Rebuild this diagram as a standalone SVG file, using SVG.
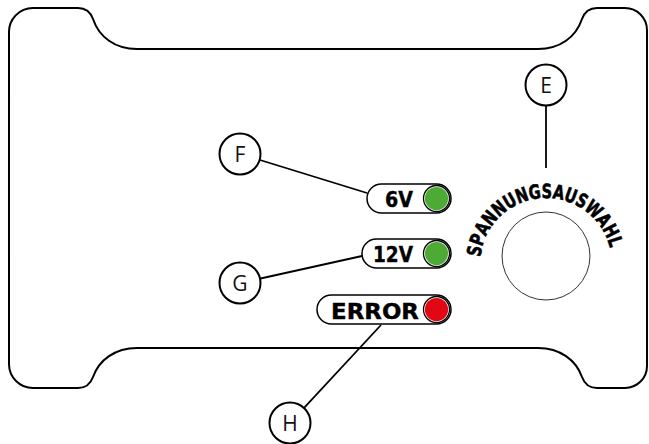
<svg xmlns="http://www.w3.org/2000/svg" width="649" height="444" viewBox="0 0 649 444">
<style>
.outline{fill:none;stroke:#000;stroke-width:2;stroke-linejoin:round}
.conn{stroke:#000;stroke-width:1.8;fill:none}
.callout{fill:#fff;stroke:#000;stroke-width:2}
.clabel{font-family:"Open Sans","DejaVu Sans",sans-serif;font-size:21px;fill:#111;text-anchor:middle}
.pill{fill:#fff;stroke:#000;stroke-width:1.5}
.led{fill:#fff;stroke:#000;stroke-width:1.3}
.ptext{font-family:"DejaVu Sans",sans-serif;font-weight:bold;font-size:21.5px;fill:#000;stroke:#000;stroke-width:0.4}
.arc{font-family:"DejaVu Sans",sans-serif;font-weight:bold;font-size:19.5px;fill:#000;stroke:#000;stroke-width:0.6;text-anchor:middle}
</style>
<g id="housing">
<path class="outline" d="M9,33 A24,24 0 0 1 33,8 L78,8 Q89,8 93,19 C99,37 115,49 137,49 L538,49 C560,49 576,37 582,19 Q586,8 597,8 L625,8 A22,22 0 0 1 647,30 L647,366 A22,22 0 0 1 625,388 L597,388 Q586,388 582,377 C576,360 560,348 538,348 L137,348 C115,348 99,360 93,377 Q89,388 78,388 L33,388 A24,24 0 0 1 9,364 Z"/>
</g>
<g id="connectors">
<line class="conn" x1="546" y1="106" x2="546" y2="168"/>
<line class="conn" x1="260" y1="160" x2="367" y2="193"/>
<line class="conn" x1="260.5" y1="278.5" x2="362" y2="256"/>
<line class="conn" x1="304.3" y1="407.6" x2="381" y2="325"/>
</g>
<g id="knob">
<circle cx="546" cy="256" r="44" fill="#fff" stroke="#333" stroke-width="1"/>
<g class="arc">
<text transform="rotate(-79.5 546 264) translate(546 198) scale(0.75 1)">S</text>
<text transform="rotate(-70.4 546 264) translate(546 198) scale(0.75 1)">P</text>
<text transform="rotate(-60.9 546 264) translate(546 198) scale(0.75 1)">A</text>
<text transform="rotate(-50.8 546 264) translate(546 198) scale(0.75 1)">N</text>
<text transform="rotate(-40.3 546 264) translate(546 198) scale(0.75 1)">N</text>
<text transform="rotate(-29.9 546 264) translate(546 198) scale(0.75 1)">U</text>
<text transform="rotate(-19.5 546 264) translate(546 198) scale(0.75 1)">N</text>
<text transform="rotate(-9.1 546 264) translate(546 198) scale(0.75 1)">G</text>
<text transform="rotate(0.6 546 264) translate(546 198) scale(0.75 1)">S</text>
<text transform="rotate(10 546 264) translate(546 198) scale(0.75 1)">A</text>
<text transform="rotate(19.9 546 264) translate(546 198) scale(0.75 1)">U</text>
<text transform="rotate(29.5 546 264) translate(546 198) scale(0.75 1)">S</text>
<text transform="rotate(41 546 264) translate(546 198) scale(0.75 1)">W</text>
<text transform="rotate(52.7 546 264) translate(546 198) scale(0.75 1)">A</text>
<text transform="rotate(62.8 546 264) translate(546 198) scale(0.75 1)">H</text>
<text transform="rotate(72.1 546 264) translate(546 198) scale(0.75 1)">L</text>
</g>
</g>
<g id="led-6v">
<rect class="pill" x="367" y="184" width="84" height="29" rx="14.5"/>
<circle class="led" cx="436.5" cy="198.5" r="13"/>
<circle cx="436.5" cy="198.5" r="11.6" fill="#4CAA35"/>
<text class="ptext" x="385" y="207" textLength="28" lengthAdjust="spacingAndGlyphs">6V</text>
</g>
<g id="led-12v">
<rect class="pill" x="362" y="239" width="89" height="29" rx="14.5"/>
<circle class="led" cx="436.5" cy="253.5" r="13"/>
<circle cx="436.5" cy="253.5" r="11.6" fill="#4CAA35"/>
<text class="ptext" x="373" y="262" textLength="40" lengthAdjust="spacingAndGlyphs">12V</text>
</g>
<g id="led-error">
<rect class="pill" x="317" y="295" width="134" height="29" rx="14.5"/>
<circle class="led" cx="436.5" cy="309.5" r="13"/>
<circle cx="436.5" cy="309.5" r="11.6" fill="#E30613"/>
<text class="ptext" x="331" y="319" textLength="88" lengthAdjust="spacingAndGlyphs">ERROR</text>
</g>
<g id="callout-E">
<circle class="callout" cx="546" cy="85" r="20.5"/>
<text class="clabel" x="546" y="92.5">E</text>
</g>
<g id="callout-F">
<circle class="callout" cx="240" cy="154" r="20.5"/>
<text class="clabel" x="240" y="161.5">F</text>
</g>
<g id="callout-G">
<circle class="callout" cx="240" cy="283" r="20.5"/>
<text class="clabel" x="240" y="290.5">G</text>
</g>
<g id="callout-H">
<circle class="callout" cx="290" cy="423" r="20.5"/>
<text class="clabel" x="290" y="430.5">H</text>
</g>
</svg>
